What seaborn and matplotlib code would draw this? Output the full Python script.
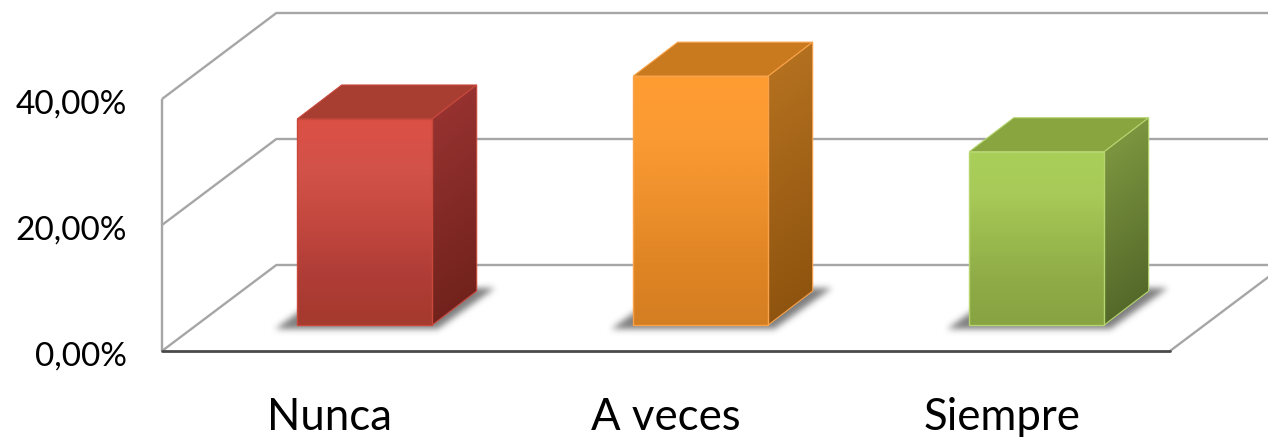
import numpy as np
import pandas as pd
import seaborn as sns
import matplotlib
matplotlib.use("Agg")
import matplotlib.pyplot as plt
from matplotlib.colors import LinearSegmentedColormap
from matplotlib.path import Path
from matplotlib.patches import Polygon
from matplotlib.transforms import ScaledTranslation

# Data (percent)
categories = ["Nunca", "A veces", "Siempre"]
values = [32.7, 39.5, 27.5]
y_ticks = [0, 20, 40]
y_tick_labels = ["0,00%", "20,00%", "40,00%"]

# Colours per category
front_colors = [["#DC5045", "#D2524A", "#C4483F", "#B03D37", "#A53A2E"],
                ["#FF9D33", "#FA9A32", "#EE912D", "#E08524", "#D47E22"],
                ["#A8CF58", "#A8CA58", "#9ABA4E", "#8FAB47", "#88A342"]]
side_colors = [["#963230", "#72221C"], ["#B3701F", "#8F540F"], ["#7B953F", "#55692A"]]
top_colors = ["#A83D31", "#C97A1E", "#89A540"]
edge_colors = ["#C8483C", "#F9A24A", "#B5D56F"]

W, H = 1268, 437
FLOOR_PX, TOP_PX, LEFT_PX, RIGHT_PX = 351, 0, 162, 1170
PX_Y = 1 / 6.3          # data units per pixel, vertical
PX_X = 1 / 336          # category units per pixel, horizontal
FIRST_BAR_PX = 364.7

sns.set_theme(style="white")
plt.rcParams["font.family"] = ["Lato", "DejaVu Sans"]

fig = plt.figure(figsize=(W / 100, H / 100), dpi=100, facecolor="white")
ax = fig.add_axes([LEFT_PX / W, 1 - FLOOR_PX / H, (RIGHT_PX - LEFT_PX) / W, (FLOOR_PX - TOP_PX) / H])
ax.patch.set_alpha(0)

BAR_BASE = 26 * PX_Y
df = pd.DataFrame({"cat": categories, "val": values})
sns.barplot(data=df, x="cat", y="val", hue="cat", order=categories, hue_order=categories,
            palette=[c[2] for c in front_colors], width=135 / 336, bottom=BAR_BASE,
            legend=False, ax=ax, zorder=4, linewidth=0, saturation=1)

xlim = ((LEFT_PX - FIRST_BAR_PX) * PX_X, (RIGHT_PX - FIRST_BAR_PX) * PX_X)
ylim = (0, (FLOOR_PX - TOP_PX) * PX_Y)

# Walls and grid
WALL_DX, WALL_DY = 115 * PX_X, 86.5 * PX_Y
grid_kw = dict(color="#A6A6A6", lw=1.7, clip_on=False, zorder=1, solid_capstyle="butt")
for t in y_ticks:
    ax.plot([xlim[0], xlim[0] + WALL_DX], [t, t + WALL_DY], **grid_kw)
    ax.plot([xlim[0] + WALL_DX, (W - FIRST_BAR_PX) * PX_X], [t + WALL_DY, t + WALL_DY], **grid_kw)
ax.plot([xlim[0], xlim[0]], [0, max(y_ticks)], **grid_kw)
ax.plot([xlim[1], xlim[1] + WALL_DX], [0, WALL_DY], **grid_kw)
ax.plot(list(xlim), [0, 0], color="#4A4A4A", lw=2.0, clip_on=False, zorder=1.5)

DEPTH_DX, DEPTH_DY = 44.5 * PX_X, 34 * PX_Y


def gradient(polygon, stops, tfunc, zorder):
    xs, ys = zip(*polygon)
    ext = (min(xs), max(xs), min(ys), max(ys))
    gx, gy = np.meshgrid(np.linspace(ext[0], ext[1], 120), np.linspace(ext[3], ext[2], 240))
    cmap = LinearSegmentedColormap.from_list("g", stops)
    im = ax.imshow(tfunc(gx, gy), extent=ext, cmap=cmap, vmin=0, vmax=1, aspect="auto",
                   interpolation="bilinear", zorder=zorder)
    clip = Polygon(polygon, closed=True, transform=ax.transData)
    im.set_clip_path(clip)


def blur(a, sigma):
    r = int(3 * sigma)
    k = np.exp(-0.5 * (np.arange(-r, r + 1) / sigma) ** 2)
    k /= k.sum()
    a = np.apply_along_axis(lambda m: np.convolve(m, k, mode="same"), 0, a)
    return np.apply_along_axis(lambda m: np.convolve(m, k, mode="same"), 1, a)


def shadow(x0, x1, b):
    pts = [(x0 - 22 * PX_X, b - 4 * PX_Y), (x1 + 6 * PX_X, b - 4 * PX_Y),
           (x1 + 63 * PX_X, b + 37 * PX_Y), (x0 + 35 * PX_X, b + 37 * PX_Y)]
    ext = (x0 - 40 * PX_X, x1 + 85 * PX_X, b - 20 * PX_Y, b + 55 * PX_Y)
    nx, ny = int((ext[1] - ext[0]) / PX_X), int((ext[3] - ext[2]) / PX_Y)
    gx, gy = np.meshgrid(np.linspace(ext[0], ext[1], nx), np.linspace(ext[3], ext[2], ny))
    inside = Path(pts).contains_points(np.c_[gx.ravel(), gy.ravel()]).reshape(gx.shape).astype(float)
    alpha = blur(inside, 3.2)
    rgba = np.zeros(gx.shape + (4,))
    rgba[..., :3] = 0.30
    rgba[..., 3] = alpha * 0.72
    ax.imshow(rgba, extent=ext, aspect="auto", interpolation="bilinear", zorder=2, clip_on=False)


for i, bar in enumerate(ax.patches):
    x0, x1 = bar.get_x(), bar.get_x() + bar.get_width()
    b, top = bar.get_y(), bar.get_y() + bar.get_height()
    shadow(x0, x1, b)

    top_poly = [(x0, top), (x1, top), (x1 + DEPTH_DX, top + DEPTH_DY), (x0 + DEPTH_DX, top + DEPTH_DY)]
    ax.add_patch(Polygon(top_poly, closed=True, fc=top_colors[i], ec=edge_colors[i], lw=0.8, zorder=3))

    side_poly = [(x1, b), (x1 + DEPTH_DX, b + DEPTH_DY), (x1 + DEPTH_DX, top + DEPTH_DY), (x1, top)]
    slope = DEPTH_DY / DEPTH_DX
    gradient(side_poly, side_colors[i],
             lambda gx, gy, t=top, h=top - b, x=x1: np.clip((t - (gy - (gx - x) * slope)) / h, 0, 1), 3)
    ax.add_patch(Polygon(side_poly, closed=True, fc="none", ec=edge_colors[i], lw=0.8, zorder=3.2))

    front_poly = [(x0, b), (x1, b), (x1, top), (x0, top)]
    gradient(front_poly, front_colors[i],
             lambda gx, gy, t=top, h=top - b: np.clip((t - gy) / h, 0, 1), 4)
    ax.add_patch(Polygon(front_poly, closed=True, fc="none", ec=edge_colors[i], lw=1.0, zorder=4.2))

ax.set_xlim(*xlim)
ax.set_ylim(*ylim)
for s in ax.spines.values():
    s.set_visible(False)
ax.set_xlabel("")
ax.set_ylabel("")
ax.set_yticks(y_ticks, y_tick_labels, fontsize=24, color="#000000")
ax.set_xticks(np.arange(len(categories)) - 35 * PX_X, categories, fontsize=31.5, color="#000000")
ax.tick_params(axis="y", length=0, pad=25)
ax.tick_params(axis="x", length=0, pad=33)
ax.grid(False)
down = ScaledTranslation(0, -3 / 100, fig.dpi_scale_trans)
for lab in ax.get_yticklabels():
    lab.set_transform(lab.get_transform() + down)

fig.savefig("out.png", dpi=100, facecolor="white")
